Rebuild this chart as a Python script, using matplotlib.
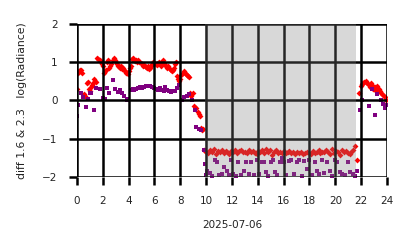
import matplotlib
matplotlib.use("Agg")
import matplotlib.pyplot as plt

# ---- data (hours of 2025-07-06) ----
red_t = [0.0, 0.05, 0.12, 0.2, 0.28, 0.35, 0.55, 0.65, 0.75, 0.85, 0.95, 1.02, 1.1, 1.18, 1.25, 1.33, 1.42, 1.5,
         1.58, 1.66, 1.75, 1.83, 1.92, 2.0, 2.08, 2.17, 2.25, 2.33, 2.42, 2.5, 2.58, 2.67, 2.75, 2.83, 2.92, 3.0,
         3.08, 3.17, 3.25, 3.33, 3.42, 3.5, 3.58, 3.67, 3.75, 3.83, 3.92, 4.0, 4.08, 4.17, 4.25, 4.33, 4.42, 4.5,
         4.58, 4.67, 4.75, 4.83, 4.92, 5.0, 5.08, 5.17, 5.25, 5.33, 5.42, 5.5, 5.58, 5.67, 5.75, 5.83, 5.92, 6.0,
         6.08, 6.17, 6.25, 6.33, 6.42, 6.5, 6.58, 6.67, 6.75, 6.83, 6.92, 7.0, 7.08, 7.17, 7.25, 7.33, 7.42, 7.5,
         7.58, 7.67, 7.75, 7.83, 7.92, 8.0, 8.08, 8.17, 8.25, 8.33, 8.42, 8.5, 8.58, 8.67, 8.75, 8.83, 9.0, 9.08,
         9.25, 9.33, 9.42, 9.5, 9.58, 9.67, 9.75]
red_v = [0.3, 0.7, 0.75, 0.8, 0.78, 0.72, 0.15, 0.1, 0.45, 0.48, 0.3, 0.25, 0.35, 0.4, 0.45, 0.55, 0.5, 0.48,
         1.1, 1.08, 1.05, 1.0, 0.95, 0.9, 0.7, 0.75, 0.8, 1.0, 1.05, 0.85, 0.9, 0.95, 1.05, 1.1, 1.05, 1.0,
         0.95, 0.9, 0.88, 0.85, 0.9, 0.82, 0.85, 0.8, 0.75, 0.72, 0.68, 0.75, 0.85, 0.9, 1.08, 1.1, 1.05, 1.02,
         1.05, 1.0, 1.05, 1.0, 0.97, 0.95, 0.9, 0.92, 0.9, 0.87, 0.85, 0.9, 0.82, 0.85, 0.9, 0.95, 1.0, 0.97,
         0.95, 0.92, 0.98, 1.0, 0.95, 0.9, 1.0, 1.05, 0.97, 0.92, 0.9, 0.85, 0.9, 0.82, 0.78, 0.75, 0.8, 0.85,
         0.95, 1.0, 0.62, 0.55, 0.5, 0.55, 0.65, 0.7, 0.75, 0.72, 0.68, 0.65, 0.62, 0.6, 0.18, 0.12, 0.2, -0.15,
         -0.2, -0.3, -0.35, -0.4, -0.72, -0.78, -0.75]

red_night_t = [9.85, 10.0, 10.15, 10.3, 10.45, 10.6, 10.75, 10.9, 11.05, 11.2, 11.35, 11.5, 11.65, 11.8, 11.95,
               12.1, 12.25, 12.4, 12.55, 12.7, 12.85, 13.0, 13.15, 13.3, 13.45, 13.6, 13.75, 13.9, 14.05, 14.2,
               14.35, 14.5, 14.65, 14.8, 14.95, 15.1, 15.25, 15.4, 15.55, 15.7, 15.85, 16.0, 16.15, 16.3, 16.45,
               16.6, 16.75, 16.9, 17.05, 17.2, 17.35, 17.5, 17.65, 17.8, 17.95, 18.1, 18.25, 18.4, 18.55, 18.7,
               18.85, 19.0, 19.15, 19.3, 19.45, 19.6, 19.75, 19.9, 20.05, 20.2, 20.35, 20.5, 20.65, 20.8, 20.95,
               21.1, 21.25, 21.4, 21.55, 21.65]
red_night_v = [-1.3, -1.35, -1.38, -1.3, -1.35, -1.28, -1.4, -1.32, -1.35, -1.3, -1.38, -1.33, -1.36, -1.4,
               -1.32, -1.35, -1.3, -1.37, -1.33, -1.3, -1.36, -1.34, -1.38, -1.3, -1.35, -1.33, -1.37, -1.4,
               -1.32, -1.35, -1.3, -1.38, -1.28, -1.36, -1.3, -1.42, -1.35, -1.3, -1.38, -1.34, -1.38, -1.32,
               -1.37, -1.35, -1.33, -1.37, -1.36, -1.4, -1.35, -1.38, -1.36, -1.4, -1.37, -1.35, -1.38, -1.4,
               -1.33, -1.37, -1.35, -1.3, -1.38, -1.34, -1.36, -1.3, -1.35, -1.4, -1.28, -1.38, -1.32, -1.35,
               -1.42, -1.3, -1.36, -1.33, -1.38, -1.4, -1.35, -1.3, -1.18, -1.55]

red_late_t = [21.85, 21.95, 22.05, 22.15, 22.25, 22.35, 22.45, 22.55, 22.65, 22.75, 22.85, 22.95, 23.05, 23.15,
              23.25, 23.35, 23.45, 23.55, 23.65, 23.75, 23.85, 23.95]
red_late_v = [0.2, 0.38, 0.42, 0.45, 0.48, 0.5, 0.45, 0.42, 0.35, 0.45, 0.4, 0.3, 0.35, 0.25, 0.38, 0.3, 0.25,
              0.2, 0.15, 0.1, 0.08, 0.0]

pur_t = [0.0, 0.08, 0.28, 0.5, 0.68, 0.85, 1.0, 1.12, 1.32, 1.5, 1.75, 2.0, 2.2, 2.35, 2.45, 2.8, 2.95, 3.15,
         3.3, 3.5, 3.65, 3.85, 3.95, 4.15, 4.3, 4.45, 4.6, 4.75, 4.9, 5.05, 5.2, 5.35, 5.5, 5.65, 5.8, 5.95,
         6.1, 6.25, 6.4, 6.55, 6.7, 6.85, 7.0, 7.15, 7.3, 7.45, 7.6, 7.75, 7.9, 8.1, 8.3, 8.5, 8.7, 8.9, 9.1,
         9.25, 9.45, 9.6]
pur_v = [-0.4, -0.12, 0.18, 0.08, -0.18, 0.02, 0.18, 0.2, -0.25, 0.33, 0.3, 0.05, 0.02, 0.32, 0.18, 0.53,
         0.3, 0.22, 0.28, 0.2, 0.12, 0.0, 0.02, 0.28, 0.3, 0.28, 0.3, 0.32, 0.35, 0.33, 0.35, 0.37, 0.36, 0.38,
         0.35, 0.32, 0.3, 0.28, 0.32, 0.28, 0.25, 0.35, 0.28, 0.25, 0.22, 0.24, 0.25, 0.32, 0.4, 0.0, 0.08,
         0.1, 0.15, 0.0, -0.25, -0.7, -0.75, -0.78]

pur_night_t = [9.8, 9.9, 10.0, 10.1, 10.3, 10.45, 10.7, 10.85, 11.0, 11.2, 11.4, 11.6, 11.75, 11.9, 12.1, 12.3,
               12.45, 12.7, 12.9, 13.1, 13.3, 13.5, 13.7, 13.9, 14.1, 14.3, 14.45, 14.6, 14.8, 15.0, 15.2,
               15.35, 15.5, 15.7, 15.9, 16.05, 16.2, 16.4, 16.6, 16.8, 17.0, 17.2, 17.4, 17.6, 17.8, 18.0,
               18.2, 18.4, 18.55, 18.75, 18.95, 19.15, 19.35, 19.55, 19.75, 19.95, 20.15, 20.35, 20.55, 20.75,
               20.95, 21.15, 21.35, 21.5, 21.65]
pur_night_v = [-1.3, -1.65, -1.95, -1.85, -1.9, -1.97, -1.55, -1.6, -1.95, -1.92, -1.75, -1.85, -1.95, -1.55,
               -1.92, -1.97, -1.6, -1.95, -1.85, -1.6, -1.92, -1.6, -1.95, -1.55, -1.92, -1.6, -1.6, -1.88,
               -1.97, -1.6, -1.55, -1.88, -1.95, -1.6, -1.5, -1.62, -1.95, -1.58, -1.55, -1.92, -1.6, -1.55,
               -1.97, -1.58, -1.8, -1.55, -1.95, -1.6, -1.85, -1.92, -1.55, -1.9, -1.6, -1.85, -1.97, -1.55,
               -1.6, -1.88, -1.92, -1.95, -1.6, -1.88, -1.92, -1.98, -1.85]

pur_late_t = [21.9, 22.1, 22.6, 22.85, 23.1, 23.25, 23.5, 23.7, 23.85, 23.95]
pur_late_v = [-0.25, 0.0, -0.15, 0.3, -0.38, 0.15, 0.0, -0.1, -0.2, -0.12]

night_start, night_end = 9.88, 21.62
xticks = list(range(0, 25, 2))
yticks = [-2, -1, 0, 1, 2]

plt.rcParams['font.family'] = ['DejaVu Sans']
fig = plt.figure(figsize=(4.14, 2.48), dpi=100)
ax = fig.add_axes([77/414, 1 - 177/248, 310/414, 153.5/248])

ax.scatter(red_t + red_night_t + red_late_t, red_v + red_night_v + red_late_v,
           marker='D', s=9, color='#ff0000', linewidths=0, zorder=2, clip_on=True)
ax.scatter(pur_t + pur_night_t + pur_late_t, pur_v + pur_night_v + pur_late_v,
           marker='s', s=7, color='#800080', linewidths=0, zorder=2, clip_on=True)
ax.axvspan(night_start, night_end, color='gray', alpha=0.3, linewidth=0, zorder=3)

ax.set_xlim(0, 24)
ax.set_ylim(-2, 2)
ax.set_xticks(xticks)
ax.set_yticks(yticks)
ax.set_yticklabels(['\u22122', '\u22121', '0', '1', '2'])
ax.grid(True, color='black', linewidth=1.8, zorder=4)
ax.set_axisbelow(False)
for s in ax.spines.values():
    s.set_visible(False)
ax.tick_params(axis='both', which='both', length=6, width=1.8, color='black', labelsize=7.5, pad=8,
               labelcolor='#222222')
ax.set_xlabel('2025-07-06', fontsize=7.5, labelpad=10, color='#222222')
ax.set_ylabel('diff 1.6 & 2.3   log(Radiance)', fontsize=7.8, labelpad=11, color='#222222')

fig.savefig('out.png', dpi=100)
